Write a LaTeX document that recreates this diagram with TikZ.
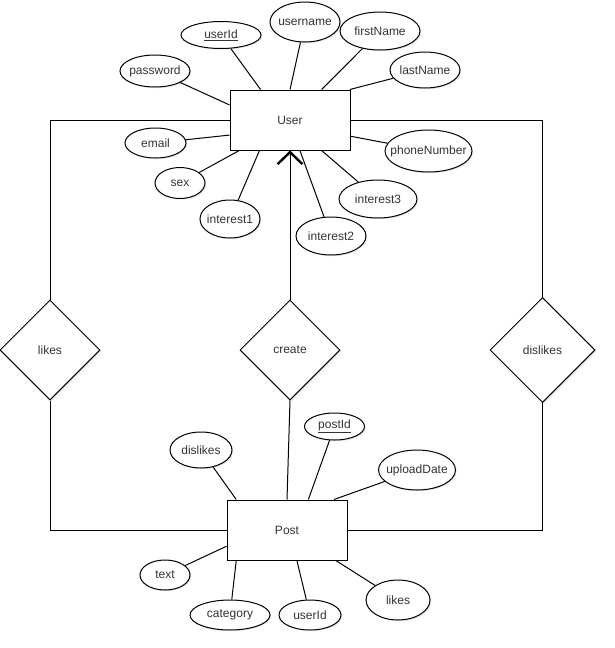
\documentclass[tikz,border=0pt]{standalone}
\usepackage{fontspec}
\setmainfont{Liberation Sans}
\usetikzlibrary{shapes.geometric,arrows.meta,shadows}

\begin{document}
\begin{tikzpicture}[
    x=1pt, y=-1pt,
    font=\fontsize{12}{14}\selectfont, text=black!80,
    >={Straight Barb[length=12pt,width=25pt,line width=2.4pt]},
    entity/.style={rectangle, draw, line width=1pt, fill=white, minimum width=120pt, minimum height=60pt},
    attr/.style={ellipse, draw, line width=1pt, fill=white, inner xsep=-12pt, inner ysep=0pt, drop shadow={shadow xshift=1.2pt, shadow yshift=-1.2pt, opacity=0.2, fill=gray}},
    rel/.style={diamond, draw, line width=1pt, fill=white, aspect=1, inner sep=0pt, drop shadow={shadow xshift=1.5pt, shadow yshift=-1.5pt, opacity=0.2, fill=gray}},
    link/.style={draw, line width=1pt},
]
\useasboundingbox (0,0) rectangle (615,648);

\node[entity] (user) at (290,120) {User};
\node[entity] (post) at (287,530) {Post};

\node[rel, minimum size=100pt] (likes) at (50,350) {likes};
\node[rel, minimum size=100pt] (create) at (290,350) {create};
\node[rel, minimum size=105pt] (dislikes) at (542.5,350) {dislikes};

\draw[link] (user.west) -| (likes.north);
\draw[link] (likes.south) |- (post.west);
\draw[link] (user.east) -| (dislikes.north);
\draw[link] (dislikes.south) |- (post.east);
\draw[link, ->] (create.north) -- (user.south);
\draw[link] (create.south) -- (post.north);

\node[attr, minimum width=70pt, minimum height=32pt] (pw) at (155,71) {password};
\node[attr, minimum width=80pt, minimum height=27pt] (uid) at (221,35) {\underline{userId}};
\node[attr, minimum width=70pt, minimum height=40pt] (uname) at (305,22) {username};
\node[attr, minimum width=80pt, minimum height=38pt] (fname) at (380,31) {firstName};
\node[attr, minimum width=70pt, minimum height=36pt] (lname) at (425,70) {lastName};
\node[attr, minimum width=61pt, minimum height=30pt] (email) at (155.5,143) {email};
\node[attr, minimum width=50pt, minimum height=31pt] (sex) at (180,183) {sex};
\node[attr, minimum width=60pt, minimum height=38pt] (int1) at (230,219) {interest1};
\node[attr, minimum width=70pt, minimum height=38pt] (int2) at (331,236) {interest2};
\node[attr, minimum width=78pt, minimum height=38pt] (int3) at (378,199) {interest3};
\node[attr, minimum width=87pt, minimum height=42pt] (phone) at (428.5,151) {phoneNumber};

\draw[link] (pw) -- (user.166);
\draw[link] (uid) -- (user.134);
\draw[link] (uname) -- (user.north);
\draw[link] (fname) -- (user.44);
\draw[link] (lname) -- (user.27);
\draw[link] (email) -- (user.194);
\draw[link] (sex) -- (user.211);
\draw[link] (int1) -- (user.225);
\draw[link] (int2) -- (user.288);
\draw[link] (int3) -- (user.316);
\draw[link] (phone) -- (user.345);

\node[attr, minimum width=60pt, minimum height=27pt] (pid) at (334.5,426.5) {\underline{postId}};
\node[attr, minimum width=62pt, minimum height=36pt] (pdis) at (201,450) {dislikes};
\node[attr, minimum width=77pt, minimum height=40pt] (upd) at (417,470) {uploadDate};
\node[attr, minimum width=50pt, minimum height=30pt] (txt) at (165,575) {text};
\node[attr, minimum width=80pt, minimum height=30pt] (cat) at (230,615) {category};
\node[attr, minimum width=62pt, minimum height=30pt] (puid) at (310,615) {userId};
\node[attr, minimum width=64pt, minimum height=40pt] (plikes) at (398,600) {likes};

\draw[link] (pdis) -- (post.149);
\draw[link] (pid) -- (post.55);
\draw[link] (upd) -- (post.33);
\draw[link] (txt) -- (post.195);
\draw[link] (cat) -- (post.211);
\draw[link] (puid) -- (post.288);
\draw[link] (plikes) -- (post.328);
\end{tikzpicture}
\end{document}
